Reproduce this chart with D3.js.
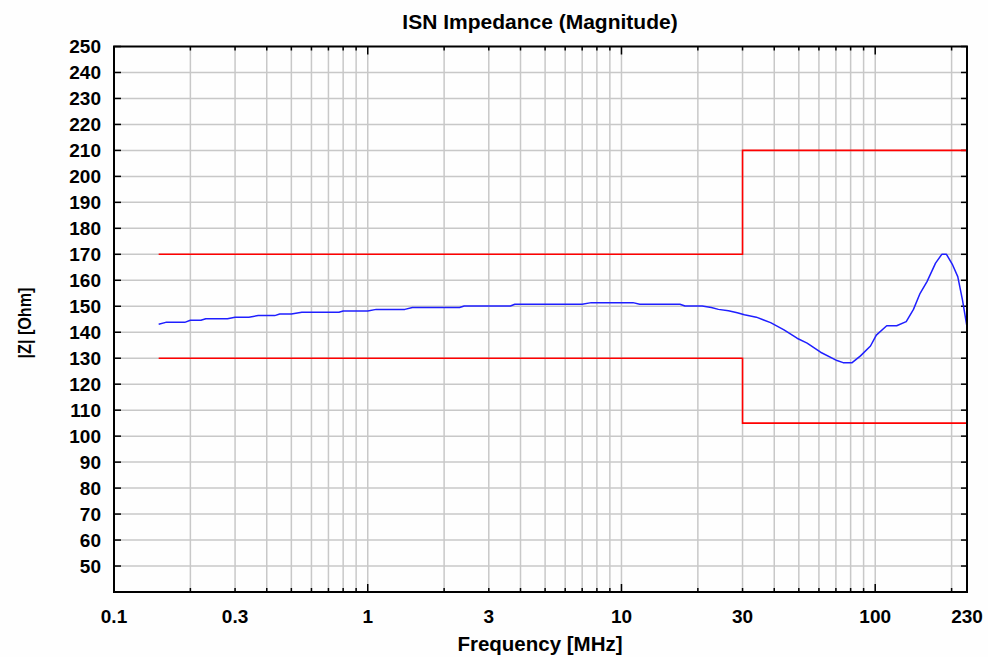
<!DOCTYPE html>
<html>
<head>
<meta charset="utf-8">
<script src="https://cdn.jsdelivr.net/npm/d3@7"></script>
<style>
  body { margin: 0; background: #fefefe; }
  svg { display: block; font-family: "Liberation Sans", Arial, sans-serif; }
</style>
</head>
<body>
<div id="chart"></div>
<script>
// Measured impedance (MHz, Ohm)
const freq = [0.15, 0.16, 0.19, 0.2, 0.22, 0.23, 0.28, 0.3, 0.34, 0.37, 0.43, 0.45, 0.5, 0.55, 0.77, 0.8,
  1.0, 1.08, 1.4, 1.5, 2.3, 2.4, 3.65, 3.8, 7.0, 7.6, 11.1, 11.8, 17.0, 17.8, 20.8, 22.6, 24.1, 26.4,
  28.6, 30.5, 34, 38.7, 43.7, 49.2, 53.9, 60.9, 70.7, 74.7, 81.1, 87.5, 95.8, 101, 111, 121.5,
  132.5, 141.5, 150.3, 160, 172.9, 183, 190.9, 201.9, 211.5, 220.8, 230];
const impedance = [143.1, 143.8, 143.8, 144.6, 144.6, 145.2, 145.2, 145.8, 145.8, 146.4, 146.4, 147.0, 147.0, 147.7, 147.7, 148.2,
  148.2, 148.8, 148.8, 149.5, 149.5, 150.1, 150.1, 150.8, 150.8, 151.4, 151.4, 150.8, 150.8, 150.1, 150.1, 149.5, 148.8, 148.3,
  147.5, 146.7, 145.8, 143.7, 140.9, 137.7, 135.8, 132.3, 129.1, 128.3, 128.3, 130.9, 134.7, 138.9, 142.5, 142.5,
  144.1, 148.8, 155.0, 159.5, 166.6, 170.0, 170.0, 165.9, 161.4, 152.4, 142.1];

// Limit masks (step at 30 MHz)
const limitFreq = [0.15, 30, 30, 230];
const upperLimit = [170, 170, 210, 210];
const lowerLimit = [130, 130, 105, 105];

const xTickValues = [0.1, 0.3, 1, 3, 10, 30, 100, 230];
const yTickValues = d3.range(50, 251, 10);

const W = 988, H = 657;
const svg = d3.select("#chart").append("svg").attr("width", W).attr("height", H);

const x = d3.scaleLog().domain([0.1, 230]).range([114, 967]);
const y = d3.scaleLinear().domain([40, 250]).range([592, 46.5]);

// grid values: 1..9 x decade within domain
const gridX = [];
[0.1, 1, 10, 100].forEach(d => {
  for (let k = 1; k <= 9; k++) {
    const v = +(d * k).toPrecision(3);
    if (v > 0.1 && v < 230) gridX.push(v);
  }
});

const grid = svg.append("g").attr("stroke", "#c8c8c8").attr("stroke-width", 1.5);
grid.selectAll("line.gx").data(gridX).join("line")
  .attr("x1", d => x(d)).attr("x2", d => x(d))
  .attr("y1", y(40)).attr("y2", y(250));
grid.selectAll("line.gy").data(yTickValues.filter(v => v < 250)).join("line")
  .attr("x1", x(0.1)).attr("x2", x(230))
  .attr("y1", d => y(d)).attr("y2", d => y(d));

// tick marks on frame (inward)
const ticks = svg.append("g").attr("stroke", "#000").attr("stroke-width", 1.5);
const isDecade = d => Math.abs(Math.log10(d) - Math.round(Math.log10(d))) < 1e-9;
gridX.forEach(d => {
  const len = isDecade(d) ? 8 : 4;
  ticks.append("line").attr("x1", x(d)).attr("x2", x(d)).attr("y1", y(40)).attr("y2", y(40) - len);
  ticks.append("line").attr("x1", x(d)).attr("x2", x(d)).attr("y1", y(250)).attr("y2", y(250) + len);
});
yTickValues.forEach(d => {
  ticks.append("line").attr("x1", x(0.1)).attr("x2", x(0.1) + 7).attr("y1", y(d)).attr("y2", y(d));
  ticks.append("line").attr("x1", x(230)).attr("x2", x(230) - 6).attr("y1", y(d)).attr("y2", y(d));
});

// limits
const line = d3.line().x(d => x(d[0])).y(d => y(d[1]));
[upperLimit, lowerLimit].forEach(lim => {
  svg.append("path")
    .datum(limitFreq.map((f, i) => [f, lim[i]]))
    .attr("fill", "none").attr("stroke", "#ff0000").attr("stroke-width", 1.6)
    .attr("d", line);
});

// measured curve
svg.append("path")
  .datum(freq.map((f, i) => [f, impedance[i]]))
  .attr("fill", "none").attr("stroke", "#1f1fff").attr("stroke-width", 1.5)
  .attr("stroke-linejoin", "round")
  .attr("d", line);

// frame
svg.append("rect")
  .attr("x", x(0.1)).attr("y", y(250))
  .attr("width", x(230) - x(0.1)).attr("height", y(40) - y(250))
  .attr("fill", "none").attr("stroke", "#000").attr("stroke-width", 2);

// tick labels
svg.append("g").selectAll("text").data(yTickValues).join("text")
  .attr("x", 101).attr("y", d => y(d)).attr("dy", "0.36em")
  .attr("text-anchor", "end").attr("font-size", 19).attr("font-weight", "bold")
  .text(d => d);
svg.append("g").selectAll("text").data(xTickValues).join("text")
  .attr("x", d => x(d)).attr("y", 623)
  .attr("text-anchor", "middle").attr("font-size", 19).attr("font-weight", "bold")
  .text(d => d);

// titles
svg.append("text").attr("x", 540).attr("y", 29).attr("text-anchor", "middle")
  .attr("font-size", 21).attr("font-weight", "bold").text("ISN Impedance (Magnitude)");
svg.append("text").attr("x", 540).attr("y", 651).attr("text-anchor", "middle")
  .attr("font-size", 20.5).attr("font-weight", "bold").text("Frequency [MHz]");
svg.append("text").attr("transform", "translate(31,323) rotate(-90)").attr("text-anchor", "middle")
  .attr("font-size", 19).attr("font-weight", "bold")
  .attr("textLength", 71).attr("lengthAdjust", "spacingAndGlyphs")
  .text("|Z| [Ohm]");
</script>
</body>
</html>
